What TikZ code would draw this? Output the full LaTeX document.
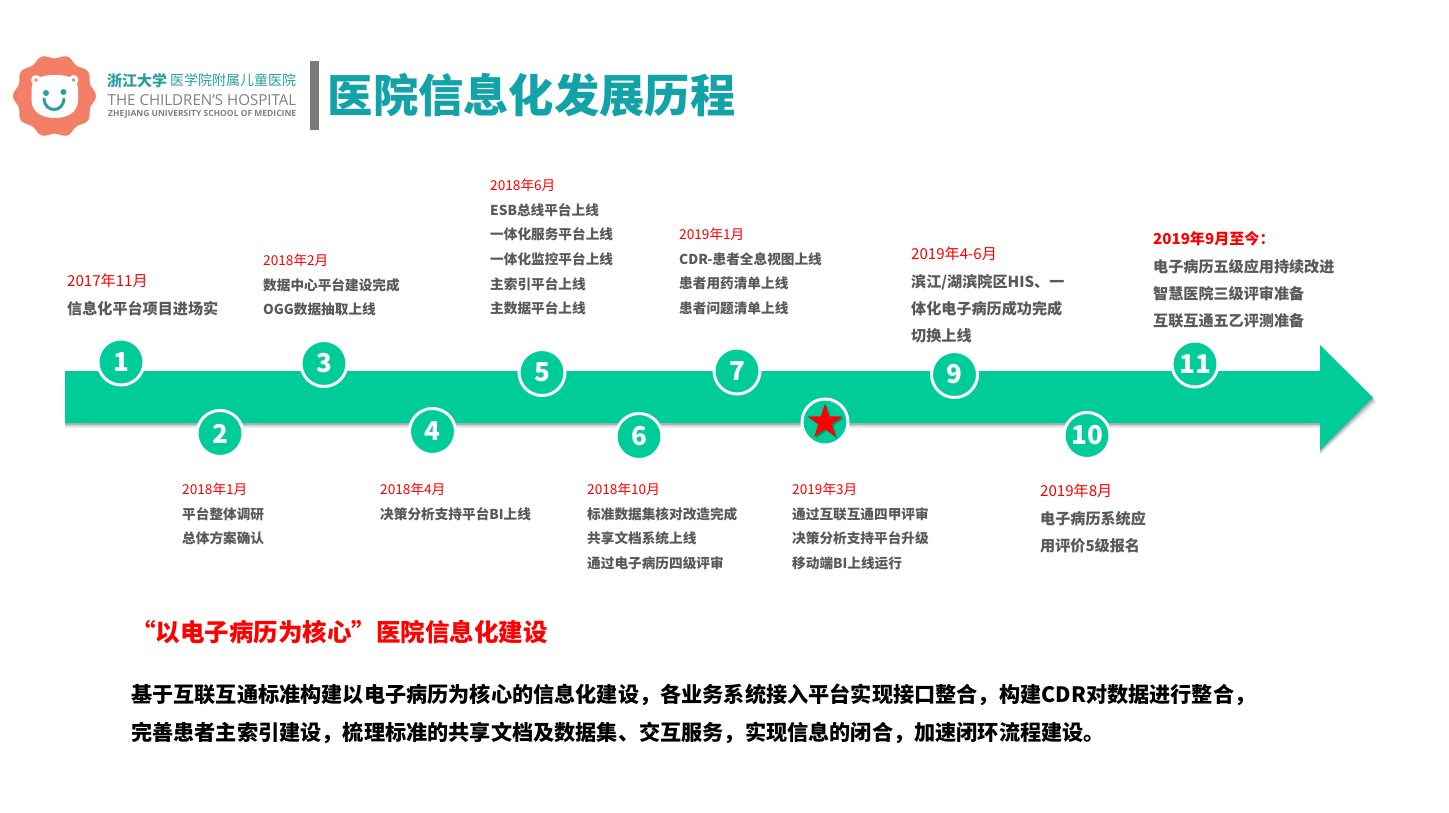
\documentclass[tikz,border=0pt]{standalone}
\usepackage{fontspec}
\setmainfont{Noto Sans CJK SC}
\newfontfamily\latinlogo{Open Sans}
\usetikzlibrary{shapes.geometric}
\definecolor{barcol}{HTML}{00CC99}
\definecolor{teal}{HTML}{12A3A8}
\definecolor{logoteal}{HTML}{2A9FA3}
\definecolor{salmon}{HTML}{F47F67}
\definecolor{bodygray}{HTML}{595959}
\definecolor{logogray}{HTML}{808080}
\tikzset{
  num/.style={circle,fill=barcol,draw=white,line width=3pt,minimum size=46pt,inner sep=0pt,text=white,font=\fontsize{26}{26}\selectfont\bfseries},
  smalltxt/.style={anchor=north west,inner sep=0pt,align=left,text=bodygray,font=\fontsize{13.65}{24.6}\selectfont\bfseries},
  bigtxt/.style={anchor=north west,inner sep=0pt,align=left,text=bodygray,font=\fontsize{15.1}{27.3}\selectfont\bfseries},
  plain/.style={anchor=west,inner sep=0pt},
}
\newcommand{\dt}[1]{\textcolor{red}{\mdseries #1}}
\begin{document}
\begin{tikzpicture}[x=1pt,y=-1pt]
\useasboundingbox (0,0) rectangle (1449,813);
\fill[white] (0,0) rectangle (1449,813);
% logo
\fill[salmon] plot[smooth cycle,samples=73,domain=0:355] ({54.5+cos(\x)*(39.5+2*cos(10*\x))},{96+sin(\x)*(39.5+2*cos(10*\x))});
\fill[white] (31.5,90) .. controls (31.5,78) and (42,75) .. (55,75) .. controls (68,75) and (78,78) .. (78,90) -- (78,100) .. controls (78,112) and (68,118) .. (55,118) .. controls (42,118) and (31.5,112) .. (31.5,100) -- cycle;
\fill[white] (36,80) circle (5);
\fill[white] (73.5,80) circle (5);
\fill[salmon] (36,80) circle (1.8);
\fill[salmon] (73.5,80) circle (1.8);
\fill[logoteal] (46,93) circle (3);
\fill[logoteal] (63.5,92) circle (3);
\draw[logoteal,line width=3pt,line cap=round] (44,99) .. controls (45,113) and (63,113) .. (64,99);
\node[plain,text=logoteal,font=\fontsize{15}{15}\selectfont\bfseries] (lg1) at (107,81) {浙江大学};
\node[plain,text=logoteal,font=\fontsize{14}{14}\selectfont] (lg2) at (170,80) {医学院附属儿童医院};
\node[plain,text=logogray,font=\latinlogo\fontsize{15.1}{15}\selectfont] (lg3) at (107.5,100.5) {THE CHILDREN’S HOSPITAL};
\node[plain,text=logogray,font=\latinlogo\fontsize{8.5}{9}\selectfont\bfseries] (lg4) at (108,114) {ZHEJIANG UNIVERSITY SCHOOL OF MEDICINE};
\fill[logogray!95!black] (310,61) rectangle (319,130);
\node[plain,text=teal,font=\fontsize{45.3}{46}\selectfont\bfseries] (title) at (327.5,95.5) {医院信息化发展历程};
% arrow + shadow
\foreach \o/\op in {5/.06,3.5/.10,2/.18}{
  \fill[black,opacity=\op] (65,{371+\o-1}) -- (1320,{371+\o-1}) -- (1320,{345+\o}) -- ({1373+\o-1},{397.5+\o}) -- (1320,{450+\o}) -- (1320,{423+\o}) -- (65,{423+\o}) -- cycle;
}
\fill[barcol] (65,371) -- (1320,371) -- (1320,345) -- (1373,397.5) -- (1320,450) -- (1320,423) -- (65,423) -- cycle;
% markers
\node[num] (c1) at (121,362) {1};
\node[num] (c2) at (220,433.5) {2};
\node[num] (c3) at (324,363.5) {3};
\node[num] (c4) at (432.5,431.5) {4};
\node[num] (c5) at (542,372.5) {5};
\node[num] (c6) at (639,436.5) {6};
\node[num] (c7) at (737,371) {7};
\node[num] (c8) at (825,422) {};
\node[num] (c9) at (954.5,374.5) {9};
\node[num] (c10) at (1087,435.5) {10};
\node[num] (c11) at (1195,364) {11};
\node[star,star points=5,star point ratio=2.618,fill=black!45!barcol,minimum size=37pt,inner sep=0pt,opacity=.6] (starsh) at (826.5,423.5) {};
\node[star,star points=5,star point ratio=2.618,fill=red,minimum size=37pt,inner sep=0pt] (starm) at (825,422) {};
% upper labels
\node[bigtxt] (t1) at (67,274) {\dt{2017年11月}\\信息化平台项目进场实};
\node[smalltxt] (t3) at (263,254) {\dt{2018年2月}\\数据中心平台建设完成\\OGG数据抽取上线};
\node[smalltxt] (t5) at (490,179) {\dt{2018年6月}\\ESB总线平台上线\\一体化服务平台上线\\一体化监控平台上线\\主索引平台上线\\主数据平台上线};
\node[smalltxt] (t7) at (679,228) {\dt{2019年1月}\\CDR-患者全息视图上线\\患者用药清单上线\\患者问题清单上线};
\node[bigtxt] (t9) at (911,247) {\dt{2019年4-6月}\\滨江/湖滨院区HIS、一\\体化电子病历成功完成\\切换上线};
\node[bigtxt] (t11) at (1153,231.5) {\textcolor{red}{2019年9月至今：}\\电子病历五级应用持续改进\\智慧医院三级评审准备\\互联互通五乙评测准备};
% lower labels
\node[smalltxt] (t2) at (182,483) {\dt{2018年1月}\\平台整体调研\\总体方案确认};
\node[smalltxt] (t4) at (380,483) {\dt{2018年4月}\\决策分析支持平台BI上线};
\node[smalltxt] (t6) at (587,483) {\dt{2018年10月}\\标准数据集核对改造完成\\共享文档系统上线\\通过电子病历四级评审};
\node[smalltxt] (t8) at (792,483) {\dt{2019年3月}\\通过互联互通四甲评审\\决策分析支持平台升级\\移动端BI上线运行};
\node[bigtxt] (t10) at (1040,484) {\dt{2019年8月}\\电子病历系统应\\用评价5级报名};
% bottom
\node[plain,text=red,font=\fontsize{24.5}{24.5}\selectfont\bfseries] (head) at (131,632) {“以电子病历为核心”医院信息化建设};
\node[anchor=north west,inner sep=0pt,align=left,text=black,font=\fontsize{21.17}{38}\selectfont\bfseries] (para) at (131,684) {基于互联互通标准构建以电子病历为核心的信息化建设，各业务系统接入平台实现接口整合，构建CDR对数据进行整合，\\完善患者主索引建设，梳理标准的共享文档及数据集、交互服务，实现信息的闭合，加速闭环流程建设。};
\end{tikzpicture}
\end{document}
